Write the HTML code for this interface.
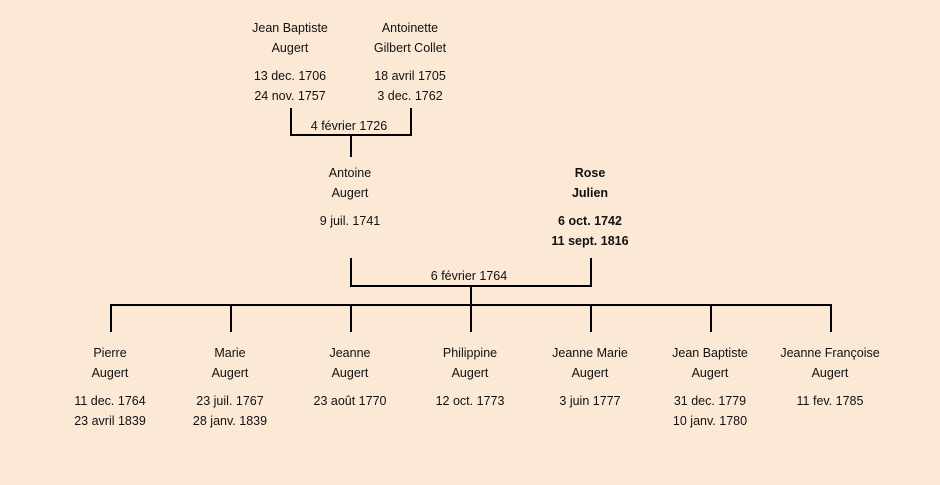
<!DOCTYPE html>
<html><head><meta charset="utf-8"><style>
html,body{margin:0;padding:0;background:#fbe9d6;}
svg{display:block}
text{font-family:"Liberation Sans","DejaVu Sans",sans-serif;font-size:12.5px;fill:#111;text-anchor:middle;}
.b{font-weight:bold}
</style></head><body>
<svg width="940" height="485" viewBox="0 0 940 485">
<rect width="940" height="485" fill="#fbe9d6"/>
<g stroke="#000" stroke-width="2" fill="none">
<path d="M291 108V135H411V108"/>
<path d="M351 135V157"/>
<path d="M351 258V286H591V258"/>
<path d="M471 286V332"/>
<path d="M111 332V305H831V332"/>
<path d="M231 305V332M351 305V332M591 305V332M711 305V332"/>
</g>
<text x="290" y="32">Jean Baptiste</text>
<text x="290" y="52">Augert</text>
<text x="290" y="80">13 dec. 1706</text>
<text x="290" y="100">24 nov. 1757</text>
<text x="410" y="32">Antoinette</text>
<text x="410" y="52">Gilbert Collet</text>
<text x="410" y="80">18 avril 1705</text>
<text x="410" y="100">3 dec. 1762</text>
<text x="349" y="130">4 février 1726</text>
<text x="350" y="177">Antoine</text>
<text x="350" y="197">Augert</text>
<text x="350" y="225">9 juil. 1741</text>
<text class="b" x="590" y="177">Rose</text>
<text class="b" x="590" y="197">Julien</text>
<text class="b" x="590" y="225">6 oct. 1742</text>
<text class="b" x="590" y="245">11 sept. 1816</text>
<text x="469" y="280">6 février 1764</text>
<text x="110" y="357">Pierre</text><text x="110" y="377">Augert</text>
<text x="110" y="405">11 dec. 1764</text><text x="110" y="425">23 avril 1839</text>
<text x="230" y="357">Marie</text><text x="230" y="377">Augert</text>
<text x="230" y="405">23 juil. 1767</text><text x="230" y="425">28 janv. 1839</text>
<text x="350" y="357">Jeanne</text><text x="350" y="377">Augert</text>
<text x="350" y="405">23 août 1770</text>
<text x="470" y="357">Philippine</text><text x="470" y="377">Augert</text>
<text x="470" y="405">12 oct. 1773</text>
<text x="590" y="357">Jeanne Marie</text><text x="590" y="377">Augert</text>
<text x="590" y="405">3 juin 1777</text>
<text x="710" y="357">Jean Baptiste</text><text x="710" y="377">Augert</text>
<text x="710" y="405">31 dec. 1779</text><text x="710" y="425">10 janv. 1780</text>
<text x="830" y="357">Jeanne Françoise</text><text x="830" y="377">Augert</text>
<text x="830" y="405">11 fev. 1785</text>
</svg>
</body></html>
